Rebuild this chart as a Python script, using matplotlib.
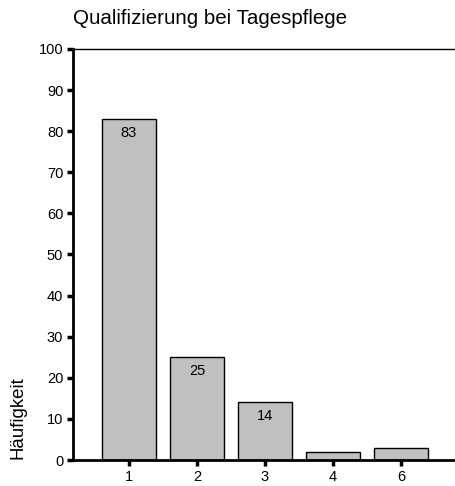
import numpy as np
import matplotlib.pyplot as plt

plt.rcParams['font.family'] = ['Liberation Sans', 'DejaVu Sans']

# categories and counts
categories = ['1', '2', '3', '4', '6']
counts = [83, 25, 14, 2, 3]
yticks = [0, 10, 20, 30, 40, 50, 60, 70, 80, 90, 100]

W, H = 455, 486
fig = plt.figure(figsize=(W/100, H/100), dpi=100)
# axes box in pixels: left 73, right ~457, top 49, bottom 460
ax = fig.add_axes([73/W, 1-460/H, (457-73)/W, (460-49)/H])

x = np.arange(len(categories))
bars = ax.bar(x, counts, width=0.8, color='#c0c0c0', edgecolor='black', linewidth=1.0)

for b, v in zip(bars, counts):
    if v >= 10:
        ax.annotate(str(v), (b.get_x()+b.get_width()/2, v), xytext=(0, -5),
                    textcoords='offset points', ha='center', va='top', fontsize=10.5)

ax.set_xlim(-0.82, 4.82)
ax.set_ylim(0, 100)
ax.set_xticks(x)
ax.set_xticklabels(categories)
ax.set_yticks(yticks)
ax.tick_params(axis='both', length=4, width=2.5, labelsize=10.5, pad=3)

ax.spines['left'].set_linewidth(2)
ax.spines['bottom'].set_linewidth(2)
ax.spines['top'].set_linewidth(1)
ax.spines['right'].set_visible(False)

fig.text(73/W, 1-19/H, 'Qualifizierung bei Tagespflege', fontsize=14.8, ha='left', va='center')
fig.text(17.5/W, 1-418/H, 'Häufigkeit', fontsize=13.4, rotation=90, ha='center', va='center')

fig.savefig('out.png', dpi=100)
